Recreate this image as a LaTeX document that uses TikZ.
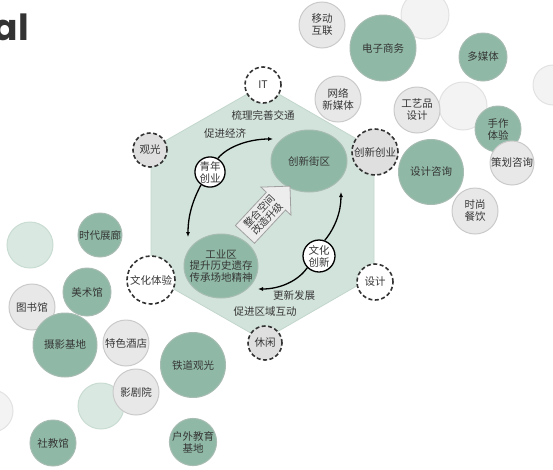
\documentclass[tikz,border=0pt]{standalone}
\usepackage{fontspec}
\newfontfamily\cjk{Noto Sans CJK SC}
\newfontfamily\popfont{Poppins}
\usetikzlibrary{shapes.arrows,shapes.geometric,arrows.meta}
\definecolor{hexfill}{HTML}{D2E3DB}
\definecolor{hexedge}{HTML}{C2D6CC}
\definecolor{gfill}{HTML}{8FB9A6}
\definecolor{gedge}{HTML}{A7BCB2}
\definecolor{lfill}{HTML}{E8E8E8}
\definecolor{ledge}{HTML}{CACACA}
\definecolor{ffill}{HTML}{F3F3F3}
\definecolor{fedge}{HTML}{E2E2E2}
\definecolor{fgfill}{HTML}{D9E8E1}
\definecolor{fgedge}{HTML}{C9DCD2}
\definecolor{dfill}{HTML}{DFDFDF}
\definecolor{txt}{HTML}{363636}
\definecolor{arrfill}{HTML}{EDEDED}
\definecolor{arredge}{HTML}{A0A0A0}
\begin{document}
\begin{tikzpicture}[x=1pt,y=-1pt,
  every node/.style={font=\cjk\fontsize{10.5}{12}\selectfont, text=txt, align=center, inner sep=0pt},
  bub/.style={circle, minimum size=#1, line width=1pt},
  gc/.style={bub=#1, fill=gfill, draw=gedge},
  lc/.style={bub=#1, fill=lfill, draw=ledge},
  fc/.style={bub=#1, fill=ffill, draw=fedge},
  fg/.style={bub=#1, fill=fgfill, draw=fgedge},
  dc/.style={bub=#1, fill=dfill, draw=black!80, line width=1.6pt, dash pattern=on 4pt off 2.5pt},
  dw/.style={dc=#1, fill=white},
  ring/.style={bub=#1, fill=white, draw=black, line width=1.3pt},
  cyc/.style={-{Latex[length=5pt,width=4pt]}, line width=1.3pt, black},
  lbl/.style={font=\cjk\fontsize{10.5}{12}\selectfont}
]
\useasboundingbox (0,0) rectangle (553,469);
\clip (0,0) rectangle (553,469);

% title fragment
\node[font=\popfont\bfseries\fontsize{36}{40}\selectfont, text=black!80, anchor=base east] (ttl) at (29,40) {al};

% faint background circles
\node[fc=48] (f1) at (425,15) {};
\node[fc=40] (f2) at (553,85) {};
\node[fc=48] (f3) at (463,106) {};
\node[fg=46] (f4) at (30,245) {};
\node[fg=46] (f5) at (101,406) {};
\node[fc=42] (f6) at (-8,411) {};

% hexagon
\draw[fill=hexfill, draw=hexedge, line width=0.8pt]
  (263,85) -- (374,149) -- (374,276) -- (263,340) -- (151,276) -- (151,149) -- cycle;

% outer gray circles
\node[lc=46] (ydhl) at (322,25) {移动\\互联};
\node[lc=46] (wl) at (338,99) {网络\\新媒体};
\node[lc=46] (gyp) at (417,110) {工艺品\\设计};
\node[lc=46] (ss) at (475,211) {时尚\\餐饮};
\node[lc=46] (tsg) at (32,307) {图书馆};
\node[lc=46] (tsjd) at (126,343) {特色酒店};
\node[lc=46] (yjy) at (136,392) {影剧院};

% outer green circles
\node[gc=66] (dzsw) at (383,48) {电子商务};
\node[gc=48] (dmt) at (483,57) {多媒体};
\node[gc=46] (sz) at (498,129) {手作\\体验};
\node[lc=44] (ch) at (512,163) {策划咨询};
\node[gc=65] (sjzx) at (431,172) {设计咨询};
\node[gc=44] (sdzl) at (100,235) {时代展廊};
\node[gc=48] (msg) at (87,292) {美术馆};
\node[gc=64] (sy) at (65,345) {摄影基地};
\node[gc=65] (tdgg) at (193,365) {铁道观光};
\node[gc=46] (sjg) at (53,443) {社教馆};
\node[gc=46] (hw) at (193,442) {户外教育\\基地};

% inner ellipses
\node[ellipse, minimum width=76, minimum height=62, fill=gfill, draw=gedge, line width=1pt] (jq) at (309,161) {创新街区};
\node[ellipse, minimum width=74, minimum height=64, fill=gfill, draw=gedge, line width=1pt] (gy) at (221,266) {};
\node[font=\cjk\fontsize{10.5}{11.5}\selectfont] (gyt) at (gy) {工业区\\提升历史遗存\\传承场地精神};

% small rings
\node[ring=30] (qn) at (210,172) {青年\\创业};
\node[ring=32] (wc) at (319,256) {文化\\创新};

% big arrow
\node[single arrow, single arrow head extend=7.5pt, minimum height=66, inner sep=2.5pt,
      fill=arrfill, draw=arredge, line width=0.8pt, rotate=47,
      font=\cjk\fontsize{10}{11}\selectfont] (ba) at (263,215) {整合空间\\改造升级};

% cycle arrows
\coordinate (t1) at (273,139);
\coordinate (t2) at (188,237);
\coordinate (t3) at (341,192);
\coordinate (t4) at (258,289);
\draw[cyc] (qn.60) .. controls (228,146) and (250,139) .. (t1);
\draw[cyc] (qn.235) .. controls (193,200) and (188,215) .. (t2);
\draw[cyc] (wc.70) .. controls (335,228) and (341,212) .. (t3);
\draw[cyc] (wc.225) .. controls (298,281) and (280,289) .. (t4);

% hexagon labels
\node[lbl] (l1) at (263,115) {梳理完善交通};
\node[lbl] (l2) at (225,134) {促进经济};
\node[lbl] (l3) at (294,295) {更新发展};
\node[lbl] (l4) at (265,312) {促进区域互动};

% dashed vertex circles
\node[dw=36] (it) at (263,85) {IT};
\node[dc=34] (gg) at (150,150) {观光};
\node[dc=46] (cxcy) at (375,152) {创新创业};
\node[dw=48] (whty) at (151,280) {文化体验};
\node[dw=36] (sj) at (375,282) {设计};
\node[dc=34] (xx) at (265,343) {休闲};
\end{tikzpicture}
\end{document}
